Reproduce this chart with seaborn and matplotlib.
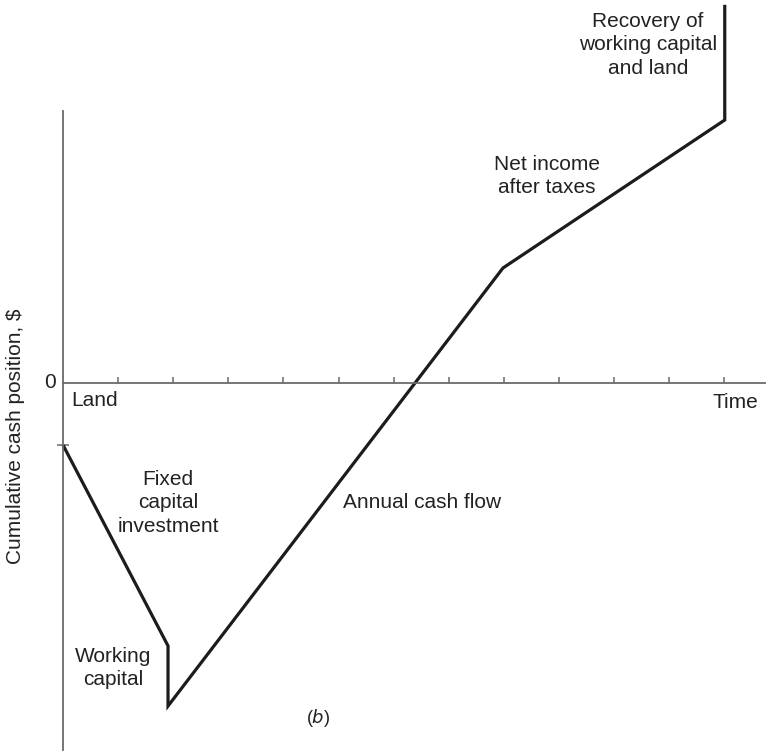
import matplotlib
matplotlib.use("Agg")
import matplotlib.pyplot as plt
import seaborn as sns
import pandas as pd

# Data (arbitrary units)
time = [0.0, 1.906, 1.906, 7.985, 12.01, 12.01]
cash = [-1.0, -4.24, -5.21, 1.855, 4.242, 6.10]
x_ticks = list(range(1, 13))
land_level = -1.0

sns.set_style("white")
plt.rcParams["font.family"] = ["Liberation Sans", "DejaVu Sans"]

df = pd.DataFrame({"time": time, "cash": cash})

fig = plt.figure(figsize=(7.67, 7.54), dpi=100)
ax = fig.add_axes([0, 0, 1, 1])
ax.set_facecolor("white")

sns.lineplot(data=df, x="time", y="cash", sort=False, estimator=None,
             color="#1c1c1c", linewidth=2.3, ax=ax)
for ln in ax.lines:
    ln.set_solid_joinstyle("miter")
    ln.set_solid_capstyle("butt")

XS, YS = 55.1, 62.0
def px(x, y):
    return ((x - 63) / XS, (383 - y) / YS)

ax.set_xlim(px(0, 0)[0], px(767, 0)[0])
ax.set_ylim(px(0, 754)[1], px(0, 0)[1])

axis_col = "#6a6a6a"
for s in ["top", "right"]:
    ax.spines[s].set_visible(False)
ax.spines["left"].set_position(("data", 0))
ax.spines["bottom"].set_position(("data", 0))
ax.spines["left"].set_bounds(px(0, 750)[1], px(0, 111)[1])
ax.spines["bottom"].set_bounds(0, px(765, 0)[0])
for s in ["left", "bottom"]:
    ax.spines[s].set_color(axis_col)
    ax.spines[s].set_linewidth(1.3)

ax.set_xticks(x_ticks, labels=[""] * len(x_ticks))
ax.tick_params(axis="x", direction="in", length=4, width=1.1, color=axis_col,
               bottom=True)
ax.set_yticks([land_level], labels=[""])
ax.tick_params(axis="y", direction="inout", length=9, width=1.1, color=axis_col,
               left=True)
ax.set_xlabel("")
ax.set_ylabel("")

tc = "#222222"
fs = 15
def txt(x, y, s, ha="center", va="center", **kw):
    ax.text(*px(x, y), s, ha=ha, va=va, fontsize=fs, color=tc,
            linespacing=1.3, **kw)

txt(56, 383, "0", ha="right")
txt(71, 401, "Land", ha="left")
txt(758, 402, "Time", ha="right")
txt(648, 45, "Recovery of\nworking capital\nand land")
txt(547, 176, "Net income\nafter taxes")
txt(168, 503, "Fixed\ncapital\ninvestment")
txt(113, 668, "Working\ncapital")
txt(422, 503, "Annual cash flow")
ax.text(*px(318, 718), "($\\it{b}$)", ha="center", va="center", fontsize=13,
        color=tc)
ax.text(*px(16, 436), "Cumulative cash position, $", ha="center", va="center",
        rotation=90, fontsize=fs, color=tc)

fig.savefig("out.png", dpi=100)
